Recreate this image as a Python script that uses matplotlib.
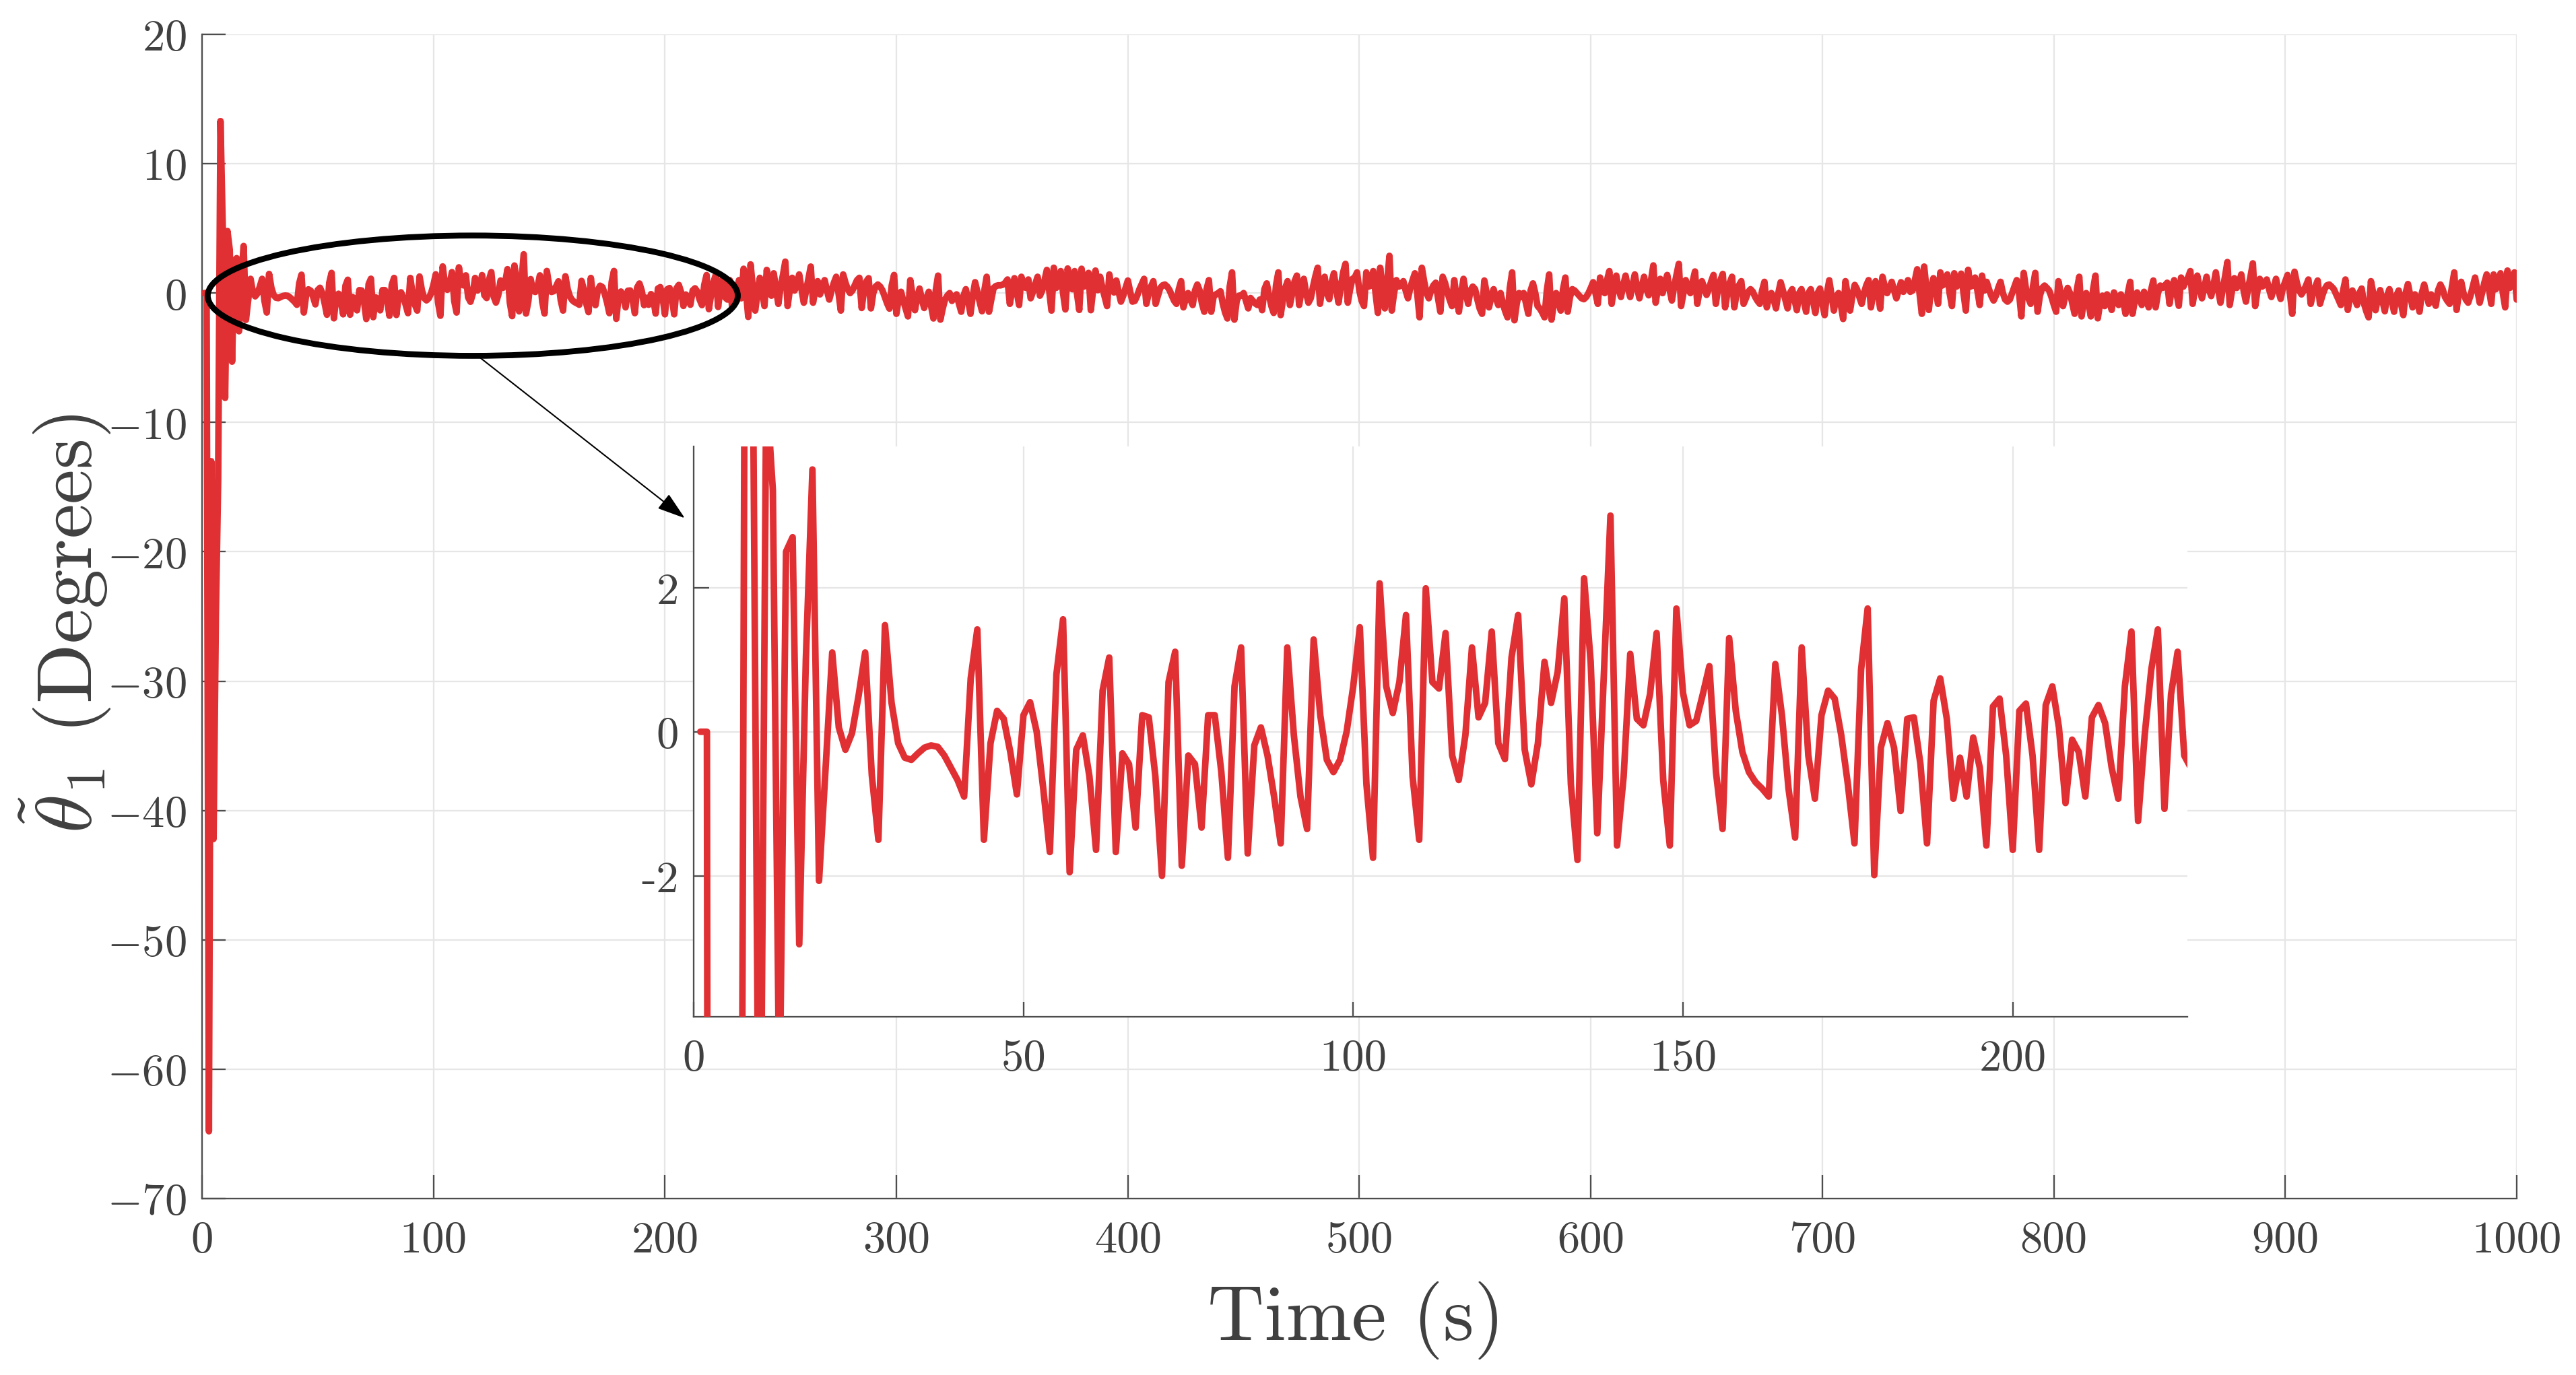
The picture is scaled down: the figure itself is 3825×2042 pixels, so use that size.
#!/usr/bin/env python3
"""
theta_1 tracking error over 1000 s, with a zoomed inset of the first 226 s.
"""
import numpy as np
import matplotlib
matplotlib.use('Agg')
import matplotlib.pyplot as plt
from matplotlib.patches import Ellipse

plt.rcParams['font.family'] = ['cmr10', 'DejaVu Serif']
plt.rcParams['mathtext.fontset'] = 'cm'
plt.rcParams['axes.unicode_minus'] = False

# theta_1 error (degrees), sampled once per second, t = 1 ... 1000 s
THETA_0001_0100 = [
    0.0, 0.0, -64.8, -13.0, -42.2, -25.0, -14.4, 13.3, 4.8, -8.1,
    4.8, 3.35, -5.3, 2.5, 2.7, -2.95, 1.0, 3.64, -2.07, -0.5,
    1.1, 0.06, -0.25, -0.02, 0.5, 1.1, -0.6, -1.5, 1.48, 0.4,
    -0.16, -0.36, -0.39, -0.3, -0.22, -0.19, -0.21, -0.33, -0.5, -0.67,
    -0.9, 0.74, 1.42, -1.5, -0.16, 0.29, 0.18, -0.28, -0.87, 0.23,
    0.41, 0.0, -0.79, -1.67, 0.8, 1.56, -1.95, -0.25, -0.05, -0.62,
    -1.64, 0.57, 1.03, -1.67, -0.3, -0.45, -1.33, 0.23, 0.2, -0.62,
    -2.0, 0.69, 1.11, -1.86, -0.33, -0.45, -1.33, 0.23, 0.23, -0.56,
    -1.75, 0.63, 1.17, -1.69, -0.19, 0.06, -0.33, -0.9, -1.55, 1.17,
    -0.05, -0.9, -1.35, 1.28, 0.23, -0.39, -0.56, -0.39, 0.0, 0.63,
]
THETA_0101_0200 = [
    1.45, -0.73, -1.75, 2.06, 0.63, 0.26, 0.69, 1.62, -0.62, -1.5,
    1.99, 0.69, 0.6, 1.37, -0.33, -0.67, -0.05, 1.17, 0.2, 0.4,
    1.39, -0.16, -0.38, 1.03, 1.62, -0.25, -0.73, -0.16, 0.97, 0.4,
    0.83, 1.85, -0.73, -1.78, 2.13, 0.97, -1.41, 0.8, 3.0, -1.58,
    -0.62, 1.08, 0.18, 0.09, 0.52, 1.37, -0.67, -1.58, 1.71, 0.54,
    0.09, 0.15, 0.52, 0.91, -0.56, -1.35, 1.3, 0.29, -0.28, -0.56,
    -0.7, -0.79, -0.9, 0.94, 0.23, -0.79, -1.47, 1.17, -0.33, -0.93,
    0.23, 0.57, 0.46, -0.05, -0.73, -1.55, 0.86, 1.71, -1.99, -0.22,
    0.12, -0.22, -1.1, 0.18, 0.2, -0.45, -1.55, 0.43, 0.74, 0.18,
    -0.93, -0.36, -0.9, -0.08, -0.5, -1.58, 0.35, 0.46, -0.33, -1.64,
]
THETA_0201_0300 = [
    0.29, 0.39, -0.33, -1.64, 0.37, 0.63, 0.06, -0.99, -0.11, -0.28,
    -0.9, 0.2, 0.37, 0.12, -0.5, -0.93, 0.63, 1.39, -1.24, -0.05,
    0.86, 1.42, -1.07, 0.52, 1.11, -0.33, -0.5, 1.0, -1.0, 0.6,
    -0.6, 1.0, -0.4, 1.88, 0.2, -1.84, 2.22, 0.4, -1.35, 0.0,
    1.18, 0.1, -1.0, 1.79, 0.3, -0.2, 1.53, 0.3, -0.83, 0.5,
    1.4, 2.43, -1.0, 0.3, 1.18, 0.2, 0.6, 1.44, 0.3, -0.74,
    0.2, 1.1, 2.05, -0.74, 0.3, 0.92, -0.1, 0.5, 1.0, 0.2,
    -0.5, 0.2, 0.8, 1.26, 0.0, -1.35, 1.44, 0.8, 0.3, 0.0,
    0.2, 0.6, 1.0, 1.18, -1.15, 0.2, 0.9, 1.15, -1.18, 0.0,
    0.5, 0.66, 0.5, 0.2, -0.3, -0.8, -1.2, 0.6, 1.4, -1.6,
]
THETA_0301_0400 = [
    -0.4, 0.1, -0.6, -1.2, -1.8, 1.0, -0.2, -1.32, -0.3, 0.35,
    -0.5, -1.15, -0.4, 0.1, -1.0, -1.96, 0.2, 1.35, -2.05, -1.2,
    -0.5, -0.2, 0.0, -0.6, -0.3, -0.1, -0.8, -1.44, -0.2, 0.3,
    -0.6, -1.6, -0.2, 0.84, 0.1, -0.7, -1.4, 0.2, 1.26, -1.44,
    -0.5, 0.4, 0.55, 0.6, 0.6, 0.65, 0.8, 1.05, -0.83, 0.2,
    1.15, 0.1, -0.92, 1.26, 0.5, 0.4, 1.05, -0.4, 0.1, 0.7,
    1.26, -0.2, 0.2, 1.0, 1.79, 0.2, -1.35, 1.96, 0.4, 0.6,
    1.7, 0.0, -1.26, 1.9, 0.5, 0.3, 1.7, 0.0, -1.3, 1.88,
    0.5, 0.9, 1.56, -1.32, 0.3, 1.74, 0.23, 1.26, 0.4, -0.3,
    -1.0, 1.44, 0.3, 0.05, 0.97, 0.1, -0.66, -0.2, 0.4, 0.97,
]
THETA_0401_0500 = [
    0.1, -0.66, -0.6, -0.2, 0.3, 0.7, 1.1, -0.83, 0.0, 0.5,
    0.92, -0.83, -0.2, 0.4, 0.6, 0.66, 0.5, 0.23, -0.2, -0.6,
    -0.83, 0.3, 0.92, -1.1, -0.4, 0.0, -0.5, -0.92, 0.2, 0.66,
    0.2, -0.8, -1.44, 0.3, 1.0, -1.44, -0.3, -0.1, 0.0, 0.14,
    -0.8, -1.5, -1.96, 0.5, 1.6, -2.05, -0.6, -0.2, -0.2, 0.0,
    -0.6, -1.18, -0.38, -0.6, -0.8, -0.92, -0.5, -1.32, 0.3, 0.75,
    -0.2, -1.0, -1.53, 0.6, 1.6, -1.7, -0.5, 0.4, 0.92, -0.92,
    0.0, 0.9, 1.35, -0.92, 0.2, 1.1, 0.0, -0.74, -0.4, 0.5,
    1.3, 1.96, -0.83, 0.4, 1.26, 0.0, -0.47, 0.8, 1.53, 0.3,
    -0.74, 0.5, 1.6, 2.26, -0.74, 0.3, 1.1, 1.2, 1.6, 0.2,
]
THETA_0501_0600 = [
    -0.6, -1.0, 1.6, 0.5, 0.6, 1.7, 0.0, -1.53, 1.96, 0.3,
    -1.18, 0.8, 2.88, -1.35, 0.0, 1.0, 0.5, 0.6, 0.92, 0.2,
    -0.4, 0.4, 1.0, 1.53, 0.0, -1.87, 1.96, 0.9, 0.0, -0.4,
    0.2, 0.6, 0.8, -0.4, -1.44, 1.26, 0.8, 0.1, -0.5, -1.0,
    1.0, -0.4, -1.44, 0.0, 1.1, 0.0, -0.83, 0.2, 0.5, 0.3,
    -0.5, -1.2, -1.6, 0.97, 0.0, -1.1, -0.3, 0.3, -0.4, -0.92,
    0.0, -0.8, -1.4, -1.87, 0.4, 1.6, -2.1, -0.8, 0.0, -0.3,
    0.0, -0.8, -1.6, 0.2, 0.75, 0.0, -1.0, -1.2, -1.5, -1.87,
    0.2, 1.44, -2.05, -0.8, 0.0, -0.7, -1.35, 0.3, 1.2, -1.44,
    -0.3, 0.3, 0.2, 0.0, -0.2, -0.4, -0.47, -0.3, 0.0, 0.4,
]
THETA_0601_0700 = [
    0.84, 0.0, -0.83, 1.2, 0.4, 0.0, 1.0, 1.7, -0.83, 0.4,
    1.35, 0.3, -0.3, 0.6, 1.35, 0.4, -0.3, 0.6, 1.44, 0.4,
    -0.4, 0.5, 1.26, 0.3, -0.17, 1.0, 2.14, -0.74, 0.4, 1.1,
    0.0, 0.7, 1.4, 0.3, -0.57, 0.5, 1.4, 2.26, -1.0, 0.0,
    1.0, 0.3, 0.0, 0.9, 1.67, -0.83, 0.2, 0.92, 0.4, -0.14,
    0.3, 0.9, 1.4, -0.83, 0.4, 1.0, 1.48, -1.1, 0.0, 0.8,
    1.26, -1.1, 0.0, 0.6, 0.92, -0.83, -0.4, 0.1, 0.3, 0.1,
    -0.3, -0.6, -0.83, 0.2, 0.87, -1.1, -0.3, 0.0, -0.5, -1.18,
    0.0, 0.84, 0.2, -0.5, -1.18, 0.0, 0.3, -0.5, -1.32, 0.0,
    0.3, -0.6, -1.44, 0.0, 0.3, -0.6, -1.53, 0.0, 0.35, -0.8,
]
THETA_0701_0800 = [
    -1.7, 0.0, 0.99, -0.2, -1.35, -0.3, 0.0, -0.9, -2.0, 0.92,
    -0.2, -1.35, -0.2, 0.63, 0.3, -0.3, -0.83, 0.0, 0.6, 1.0,
    -1.1, 0.0, 0.92, 0.0, -1.2, 1.26, 0.5, 0.0, 0.4, 0.87,
    0.2, -0.4, 0.2, 0.84, 0.1, 0.5, 1.0, 0.1, 0.2, 1.0,
    1.84, 0.0, -1.6, 2.05, 0.3, -1.3, 0.4, 1.15, 0.2, -0.83,
    1.6, 0.6, 0.8, 1.44, 0.0, -1.0, 1.53, 0.5, 0.8, 1.5,
    0.0, -1.35, 1.8, 0.5, 0.6, 1.2, 0.2, -0.92, 1.35, 0.2,
    0.87, 0.3, -0.2, -0.57, -0.2, 0.4, 0.87, 0.0, -0.5, -0.66,
    -0.5, 0.0, 0.5, 1.0, 0.0, -1.8, 1.56, 0.3, -0.4, -0.83,
    0.5, 1.56, -1.44, -0.2, 0.4, 0.58, 0.4, 0.2, -0.3, -0.9,
]
THETA_0801_0900 = [
    -1.44, 0.92, 0.0, -1.0, -0.2, 0.4, 0.0, -0.8, -1.6, 0.3,
    1.26, -1.8, -0.6, 0.0, -0.8, -1.8, 0.3, 1.35, -1.95, -0.8,
    -0.2, -1.0, -0.1, -0.5, -1.3, 0.05, -0.4, -0.92, -0.1, -0.6,
    -1.6, 0.0, 0.87, -1.6, -0.6, 0.05, -0.4, -0.92, 0.1, -0.4,
    -1.1, 0.2, 0.97, -1.1, 0.0, 0.58, 0.4, 0.6, 0.8, -0.83,
    0.4, 1.0, 0.0, -0.98, 1.2, 0.5, 0.9, 1.2, 1.7, -0.83,
    0.3, 1.35, 0.4, -0.4, 0.4, 1.26, 0.3, -0.23, 0.6, 1.6,
    0.3, -0.74, 0.3, 1.3, 2.4, -0.92, 0.2, 1.15, 0.4, 0.8,
    1.44, 0.2, -0.66, 0.4, 1.3, 2.3, -1.0, 0.2, 1.1, 0.5,
    0.7, 1.05, 0.3, -0.3, 0.4, 1.1, 0.2, -0.45, 0.4, 0.9,
]
THETA_0901_1000 = [
    1.4, 0.0, -1.6, 1.65, 0.8, 0.2, -0.1, 0.2, 0.6, 1.05,
    -0.83, 0.0, 0.5, 0.97, -0.83, -0.2, 0.3, 0.6, 0.66, 0.5,
    0.3, -0.1, -0.5, -0.92, 0.2, 1.05, -1.3, -0.3, 0.2, -0.4,
    -0.92, 0.0, 0.35, -0.8, -1.4, -1.87, 0.92, 0.0, -1.32, -0.4,
    0.23, -0.6, -1.4, -0.2, 0.3, -0.6, -1.44, -0.2, 0.2, -0.8,
    -1.7, 0.0, 0.7, -0.2, -1.1, -0.1, -0.5, -1.44, 0.0, 0.66,
    -0.1, -0.83, -0.1, -0.5, -0.98, 0.2, 0.66, 0.3, -0.3, -0.6,
    -0.83, 0.5, 1.6, -1.3, 0.0, 0.87, 0.0, -0.5, -0.74, -0.2,
    0.5, 1.2, 0.2, -0.74, 0.0, 0.8, 1.44, 0.3, -0.83, 1.44,
    0.3, 0.8, 1.53, 0.0, -1.1, 1.74, 0.4, 0.8, 1.6, -0.5,
]

MAIN_XTICKS = [0, 100, 200, 300, 400, 500, 600, 700, 800, 900, 1000]
MAIN_YTICKS = [-70, -60, -50, -40, -30, -20, -10, 0, 10, 20]
INSET_XTICKS = [0, 50, 100, 150, 200]
INSET_YTICKS = [-2, 0, 2]

RED = '#e13033'
TEXT_C = '#404040'
AXIS_C = '#4d4d4d'
GRID_C = '#e6e6e6'
LINE_W = 2.35


def style_axes(ax, tick_len, xpad, ypad):
    for side in ('top', 'right'):
        ax.spines[side].set_visible(False)
    for side in ('left', 'bottom'):
        ax.spines[side].set_color(AXIS_C)
        ax.spines[side].set_linewidth(0.55)
    ax.tick_params(direction='in', length=tick_len, width=0.55, color=AXIS_C,
                   labelcolor=TEXT_C, labelsize=16, top=False, right=False)
    ax.tick_params(axis='x', pad=xpad)
    ax.tick_params(axis='y', pad=ypad)
    ax.grid(True, color=GRID_C, linewidth=0.55)
    ax.set_axisbelow(True)


def main():
    theta = np.array(THETA_0001_0100 + THETA_0101_0200 + THETA_0201_0300 +
                     THETA_0301_0400 + THETA_0401_0500 + THETA_0501_0600 +
                     THETA_0601_0700 + THETA_0701_0800 + THETA_0801_0900 +
                     THETA_0901_1000)
    time_s = np.arange(1, len(theta) + 1)

    fig = plt.figure(figsize=(12.75, 6.81), dpi=300)

    # main axes
    ax = fig.add_axes([0.0784, 0.1283, 0.8986, 0.8462])
    ax.plot(time_s, theta, color=RED, lw=LINE_W, solid_joinstyle='round',
            solid_capstyle='round', zorder=3)
    ax.set_xlim(0, 1000)
    ax.set_ylim(-70, 20)
    ax.set_xticks(MAIN_XTICKS)
    ax.set_xticklabels([str(v) for v in MAIN_XTICKS])
    ax.set_yticks(MAIN_YTICKS)
    ax.set_yticklabels([rf'${v}$' for v in MAIN_YTICKS])
    style_axes(ax, 8.4, 7.9, 5.5)

    # ellipse around the zoomed window + pointer to the inset
    ax.add_patch(Ellipse((117, -0.2), 229, 9.3, fill=False, edgecolor='black',
                         lw=2.1, zorder=5))
    ax.annotate('', xy=(208.6, -17.4), xytext=(120.2, -5.0),
                arrowprops=dict(arrowstyle='-|>,head_length=0.43,head_width=0.14',
                                mutation_scale=20, color='black', lw=0.5,
                                shrinkA=0, shrinkB=0), zorder=6)

    fig.text(0.5265, 0.0259, 'Time (s)', fontsize=28, color=TEXT_C,
             ha='center', va='baseline')
    fig.text(0.0358, 0.547, r'$\tilde{\theta}_1$ (Degrees)', fontsize=28,
             color=TEXT_C, rotation=90, rotation_mode='anchor',
             ha='center', va='baseline')

    # inset
    axin = fig.add_axes([0.2693, 0.2602, 0.5799, 0.4148])
    axin.set_facecolor('white')
    axin.plot(time_s, theta, color=RED, lw=LINE_W, solid_joinstyle='round',
              solid_capstyle='round', zorder=3)
    axin.set_xlim(0, 226.5)
    axin.set_ylim(-3.96, 3.96)
    axin.set_xticks(INSET_XTICKS)
    axin.set_xticklabels([str(v) for v in INSET_XTICKS])
    axin.set_yticks(INSET_YTICKS)
    axin.set_yticklabels([str(v) for v in INSET_YTICKS])
    style_axes(axin, 5.4, 7.6, 5.3)

    fig.savefig('out.png', dpi=300)
    plt.close(fig)


if __name__ == '__main__':
    main()
